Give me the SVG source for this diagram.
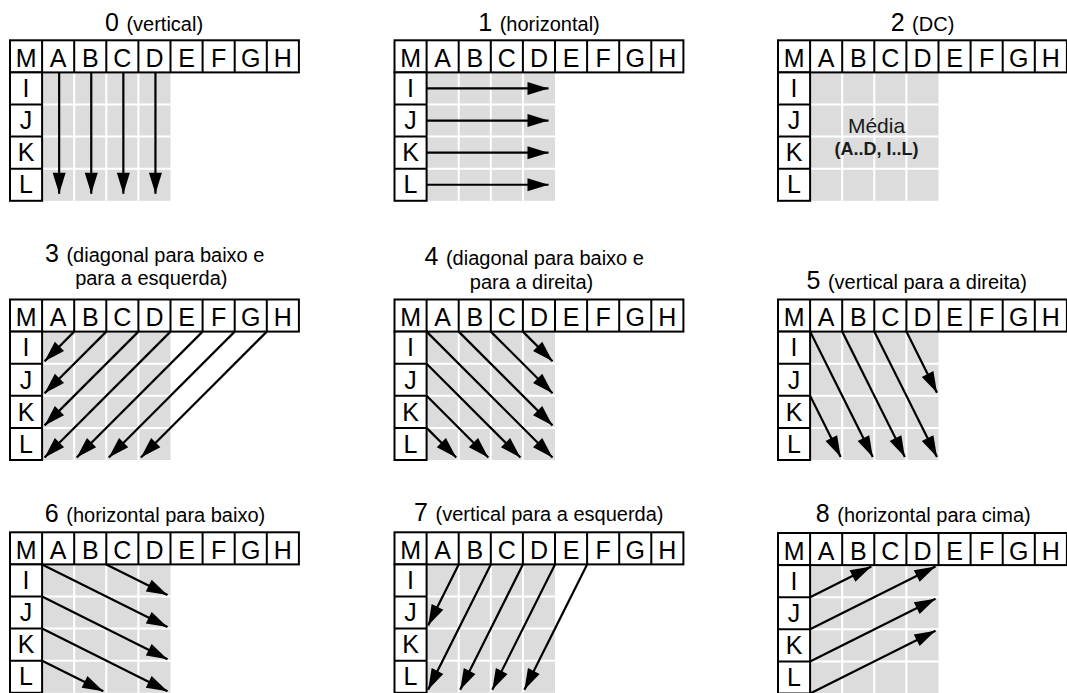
<svg xmlns="http://www.w3.org/2000/svg" xmlns:xlink="http://www.w3.org/1999/xlink" width="1067" height="693" viewBox="0 0 1067 693">
<style>
.bg{fill:#fff}
.gray{fill:#dcdcdc}
.gap{stroke:#fff;stroke-width:2;fill:none}
.box{fill:#fff;stroke:#000;stroke-width:2}
.div{stroke:#000;stroke-width:2;fill:none}
.cell{font-family:"Liberation Sans",Arial,Helvetica,sans-serif;font-size:25px;text-anchor:middle;fill:#000}
.title{font-family:"Liberation Sans",Arial,Helvetica,sans-serif;font-size:20px;text-anchor:middle;fill:#000}
.num{font-size:25px}
.avg{font-family:"Liberation Sans",Arial,Helvetica,sans-serif;font-size:21px;text-anchor:middle;fill:#1a1a1a}
.avgb{font-family:"Liberation Sans",Arial,Helvetica,sans-serif;font-size:18px;font-weight:bold;text-anchor:middle;fill:#1a1a1a}
.arrow{stroke:#000;stroke-width:2.2;fill:none;marker-end:url(#ah)}
</style>
<defs>
<marker id="ah" markerUnits="userSpaceOnUse" markerWidth="21" markerHeight="13" refX="21" refY="6.5" orient="auto" overflow="visible">
<path d="M0,0 L21,6.5 L0,13 Z" fill="#000"/>
</marker>
<g id="grid">
<rect class="gray" x="32.1" y="32.1" width="128.4" height="128.4"/>
<path class="gap" d="M64.2 32.1V160.5M96.3 32.1V160.5M128.4 32.1V160.5M32.1 64.2H160.5M32.1 96.3H160.5M32.1 128.4H160.5"/>
<rect class="box" x="0" y="0" width="288.9" height="32.1"/>
<rect class="box" x="0" y="32.1" width="32.1" height="128.4"/>
<path class="div" d="M32.1 0V32.1M64.2 0V32.1M96.3 0V32.1M128.4 0V32.1M160.5 0V32.1M192.6 0V32.1M224.7 0V32.1M256.8 0V32.1M0 64.2H32.1M0 96.3H32.1M0 128.4H32.1"/>
</g>
</defs>
<rect class="bg" x="0" y="0" width="1067" height="693"/>

<g id="panel-0" transform="translate(10,40.3)">
<text class="title" x="144" y="-9.8"><tspan class="num">0</tspan><tspan dx="2"> (vertical)</tspan></text>
<use href="#grid" xlink:href="#grid"/>
<text class="cell"><tspan x="16.05" y="26.5">M</tspan><tspan x="48.15" y="26.5">A</tspan><tspan x="80.25" y="26.5">B</tspan><tspan x="112.35" y="26.5">C</tspan><tspan x="144.45" y="26.5">D</tspan><tspan x="176.55" y="26.5">E</tspan><tspan x="208.65" y="26.5">F</tspan><tspan x="240.75" y="26.5">G</tspan><tspan x="272.85" y="26.5">H</tspan><tspan x="16.05" y="56.9">I</tspan><tspan x="16.05" y="89">J</tspan><tspan x="16.05" y="121.1">K</tspan><tspan x="16.05" y="153.2">L</tspan></text>
</g>

<g id="panel-1" transform="translate(394.5,40.3)">
<text class="title" x="144.5" y="-9.8"><tspan class="num">1</tspan><tspan dx="2"> (horizontal)</tspan></text>
<use href="#grid" xlink:href="#grid"/>
<text class="cell"><tspan x="16.05" y="26.5">M</tspan><tspan x="48.15" y="26.5">A</tspan><tspan x="80.25" y="26.5">B</tspan><tspan x="112.35" y="26.5">C</tspan><tspan x="144.45" y="26.5">D</tspan><tspan x="176.55" y="26.5">E</tspan><tspan x="208.65" y="26.5">F</tspan><tspan x="240.75" y="26.5">G</tspan><tspan x="272.85" y="26.5">H</tspan><tspan x="16.05" y="56.9">I</tspan><tspan x="16.05" y="89">J</tspan><tspan x="16.05" y="121.1">K</tspan><tspan x="16.05" y="153.2">L</tspan></text>
</g>

<g id="panel-2" transform="translate(778,40.3)">
<text class="title" x="144.5" y="-9.8"><tspan class="num">2</tspan><tspan dx="2"> (DC)</tspan></text>
<use href="#grid" xlink:href="#grid"/>
<text class="cell"><tspan x="16.05" y="26.5">M</tspan><tspan x="48.15" y="26.5">A</tspan><tspan x="80.25" y="26.5">B</tspan><tspan x="112.35" y="26.5">C</tspan><tspan x="144.45" y="26.5">D</tspan><tspan x="176.55" y="26.5">E</tspan><tspan x="208.65" y="26.5">F</tspan><tspan x="240.75" y="26.5">G</tspan><tspan x="272.85" y="26.5">H</tspan><tspan x="16.05" y="56.9">I</tspan><tspan x="16.05" y="89">J</tspan><tspan x="16.05" y="121.1">K</tspan><tspan x="16.05" y="153.2">L</tspan></text>
<text class="avg" x="98.5" y="92.5">Média</text>
<text class="avgb" x="98.5" y="115">(A..D, I..L)</text>
</g>

<g id="panel-3" transform="translate(10,299.5)">
<text class="title" x="144.7" y="-37.8"><tspan class="num">3</tspan><tspan dx="2"> (diagonal para baixo e</tspan></text>
<text class="title" x="141.3" y="-14.5">para a esquerda)</text>
<use href="#grid" xlink:href="#grid"/>
<text class="cell"><tspan x="16.05" y="26.5">M</tspan><tspan x="48.15" y="26.5">A</tspan><tspan x="80.25" y="26.5">B</tspan><tspan x="112.35" y="26.5">C</tspan><tspan x="144.45" y="26.5">D</tspan><tspan x="176.55" y="26.5">E</tspan><tspan x="208.65" y="26.5">F</tspan><tspan x="240.75" y="26.5">G</tspan><tspan x="272.85" y="26.5">H</tspan><tspan x="16.05" y="56.9">I</tspan><tspan x="16.05" y="89">J</tspan><tspan x="16.05" y="121.1">K</tspan><tspan x="16.05" y="153.2">L</tspan></text>
</g>

<g id="panel-4" transform="translate(394.5,299.5)">
<text class="title" x="139.7" y="-34.5"><tspan class="num">4</tspan><tspan dx="2"> (diagonal para baixo e</tspan></text>
<text class="title" x="137" y="-10.5">para a direita)</text>
<use href="#grid" xlink:href="#grid"/>
<text class="cell"><tspan x="16.05" y="26.5">M</tspan><tspan x="48.15" y="26.5">A</tspan><tspan x="80.25" y="26.5">B</tspan><tspan x="112.35" y="26.5">C</tspan><tspan x="144.45" y="26.5">D</tspan><tspan x="176.55" y="26.5">E</tspan><tspan x="208.65" y="26.5">F</tspan><tspan x="240.75" y="26.5">G</tspan><tspan x="272.85" y="26.5">H</tspan><tspan x="16.05" y="56.9">I</tspan><tspan x="16.05" y="89">J</tspan><tspan x="16.05" y="121.1">K</tspan><tspan x="16.05" y="153.2">L</tspan></text>
</g>

<g id="panel-5" transform="translate(778,299.5)">
<text class="title" x="138.7" y="-10.2"><tspan class="num">5</tspan><tspan dx="2"> (vertical para a direita)</tspan></text>
<use href="#grid" xlink:href="#grid"/>
<text class="cell"><tspan x="16.05" y="26.5">M</tspan><tspan x="48.15" y="26.5">A</tspan><tspan x="80.25" y="26.5">B</tspan><tspan x="112.35" y="26.5">C</tspan><tspan x="144.45" y="26.5">D</tspan><tspan x="176.55" y="26.5">E</tspan><tspan x="208.65" y="26.5">F</tspan><tspan x="240.75" y="26.5">G</tspan><tspan x="272.85" y="26.5">H</tspan><tspan x="16.05" y="56.9">I</tspan><tspan x="16.05" y="89">J</tspan><tspan x="16.05" y="121.1">K</tspan><tspan x="16.05" y="153.2">L</tspan></text>
</g>

<g id="panel-6" transform="translate(10,532.3)">
<text class="title" x="145" y="-10.6"><tspan class="num">6</tspan><tspan dx="2"> (horizontal para baixo)</tspan></text>
<use href="#grid" xlink:href="#grid"/>
<text class="cell"><tspan x="16.05" y="26.5">M</tspan><tspan x="48.15" y="26.5">A</tspan><tspan x="80.25" y="26.5">B</tspan><tspan x="112.35" y="26.5">C</tspan><tspan x="144.45" y="26.5">D</tspan><tspan x="176.55" y="26.5">E</tspan><tspan x="208.65" y="26.5">F</tspan><tspan x="240.75" y="26.5">G</tspan><tspan x="272.85" y="26.5">H</tspan><tspan x="16.05" y="56.9">I</tspan><tspan x="16.05" y="89">J</tspan><tspan x="16.05" y="121.1">K</tspan><tspan x="16.05" y="153.2">L</tspan></text>
</g>

<g id="panel-7" transform="translate(394.5,532.3)">
<text class="title" x="144.3" y="-11.3"><tspan class="num">7</tspan><tspan dx="2"> (vertical para a esquerda)</tspan></text>
<use href="#grid" xlink:href="#grid"/>
<text class="cell"><tspan x="16.05" y="26.5">M</tspan><tspan x="48.15" y="26.5">A</tspan><tspan x="80.25" y="26.5">B</tspan><tspan x="112.35" y="26.5">C</tspan><tspan x="144.45" y="26.5">D</tspan><tspan x="176.55" y="26.5">E</tspan><tspan x="208.65" y="26.5">F</tspan><tspan x="240.75" y="26.5">G</tspan><tspan x="272.85" y="26.5">H</tspan><tspan x="16.05" y="56.9">I</tspan><tspan x="16.05" y="89">J</tspan><tspan x="16.05" y="121.1">K</tspan><tspan x="16.05" y="153.2">L</tspan></text>
</g>

<g id="panel-8" transform="translate(778,533)">
<text class="title" x="145.3" y="-11.3"><tspan class="num">8</tspan><tspan dx="2"> (horizontal para cima)</tspan></text>
<use href="#grid" xlink:href="#grid"/>
<text class="cell"><tspan x="16.05" y="26.5">M</tspan><tspan x="48.15" y="26.5">A</tspan><tspan x="80.25" y="26.5">B</tspan><tspan x="112.35" y="26.5">C</tspan><tspan x="144.45" y="26.5">D</tspan><tspan x="176.55" y="26.5">E</tspan><tspan x="208.65" y="26.5">F</tspan><tspan x="240.75" y="26.5">G</tspan><tspan x="272.85" y="26.5">H</tspan><tspan x="16.05" y="56.9">I</tspan><tspan x="16.05" y="89">J</tspan><tspan x="16.05" y="121.1">K</tspan><tspan x="16.05" y="153.2">L</tspan></text>
</g>

<g id="connectors">
<g id="arrows-0" transform="translate(10,40.3)">
<line class="arrow" x1="49.15" y1="32.1" x2="49.15" y2="153.5"/>
<line class="arrow" x1="81.25" y1="32.1" x2="81.25" y2="153.5"/>
<line class="arrow" x1="113.35" y1="32.1" x2="113.35" y2="153.5"/>
<line class="arrow" x1="145.45" y1="32.1" x2="145.45" y2="153.5"/>
</g>
<g id="arrows-1" transform="translate(394.5,40.3)">
<line class="arrow" x1="32.1" y1="48.15" x2="154" y2="48.15"/>
<line class="arrow" x1="32.1" y1="80.25" x2="154" y2="80.25"/>
<line class="arrow" x1="32.1" y1="112.35" x2="154" y2="112.35"/>
<line class="arrow" x1="32.1" y1="144.45" x2="154" y2="144.45"/>
</g>
<g id="arrows-3" transform="translate(10,299.5)">
<line class="arrow" x1="64.2" y1="32.1" x2="34.6" y2="61.7"/>
<line class="arrow" x1="96.3" y1="32.1" x2="34.6" y2="93.8"/>
<line class="arrow" x1="128.4" y1="32.1" x2="34.6" y2="125.9"/>
<line class="arrow" x1="160.5" y1="32.1" x2="34.6" y2="158"/>
<line class="arrow" x1="192.6" y1="32.1" x2="66.7" y2="158"/>
<line class="arrow" x1="224.7" y1="32.1" x2="98.8" y2="158"/>
<line class="arrow" x1="256.8" y1="32.1" x2="130.9" y2="158"/>
</g>
<g id="arrows-4" transform="translate(394.5,299.5)">
<line class="arrow" x1="32.1" y1="32.1" x2="158" y2="158"/>
<line class="arrow" x1="64.2" y1="32.1" x2="158" y2="125.9"/>
<line class="arrow" x1="96.3" y1="32.1" x2="158" y2="93.8"/>
<line class="arrow" x1="128.4" y1="32.1" x2="158" y2="61.7"/>
<line class="arrow" x1="32.1" y1="64.2" x2="125.9" y2="158"/>
<line class="arrow" x1="32.1" y1="96.3" x2="93.8" y2="158"/>
<line class="arrow" x1="32.1" y1="128.4" x2="61.7" y2="158"/>
</g>
<g id="arrows-5" transform="translate(778,299.5)">
<line class="arrow" x1="32.1" y1="96.3" x2="62.7" y2="157.5"/>
<line class="arrow" x1="32.1" y1="32.1" x2="94.8" y2="157.5"/>
<line class="arrow" x1="64.2" y1="32.1" x2="126.9" y2="157.5"/>
<line class="arrow" x1="96.3" y1="32.1" x2="159" y2="157.5"/>
<line class="arrow" x1="128.4" y1="32.1" x2="159" y2="93.3"/>
</g>
<g id="arrows-6" transform="translate(10,532.3)">
<line class="arrow" x1="96.3" y1="32.1" x2="157.5" y2="62.7"/>
<line class="arrow" x1="32.1" y1="32.1" x2="157.5" y2="94.8"/>
<line class="arrow" x1="32.1" y1="64.2" x2="157.5" y2="126.9"/>
<line class="arrow" x1="32.1" y1="96.3" x2="157.5" y2="159"/>
<line class="arrow" x1="32.1" y1="128.4" x2="93.3" y2="159"/>
</g>
<g id="arrows-7" transform="translate(394.5,532.3)">
<line class="arrow" x1="64.2" y1="32.1" x2="33.6" y2="93.3"/>
<line class="arrow" x1="96.3" y1="32.1" x2="33.6" y2="157.5"/>
<line class="arrow" x1="128.4" y1="32.1" x2="65.7" y2="157.5"/>
<line class="arrow" x1="160.5" y1="32.1" x2="97.8" y2="157.5"/>
<line class="arrow" x1="192.6" y1="32.1" x2="129.9" y2="157.5"/>
</g>
<g id="arrows-8" transform="translate(778,533)">
<line class="arrow" x1="32.1" y1="64.2" x2="93.3" y2="33.6"/>
<line class="arrow" x1="32.1" y1="96.3" x2="157.5" y2="33.6"/>
<line class="arrow" x1="32.1" y1="128.4" x2="157.5" y2="65.7"/>
<line class="arrow" x1="32.1" y1="160.5" x2="157.5" y2="97.8"/>
</g>
</g>
</svg>
